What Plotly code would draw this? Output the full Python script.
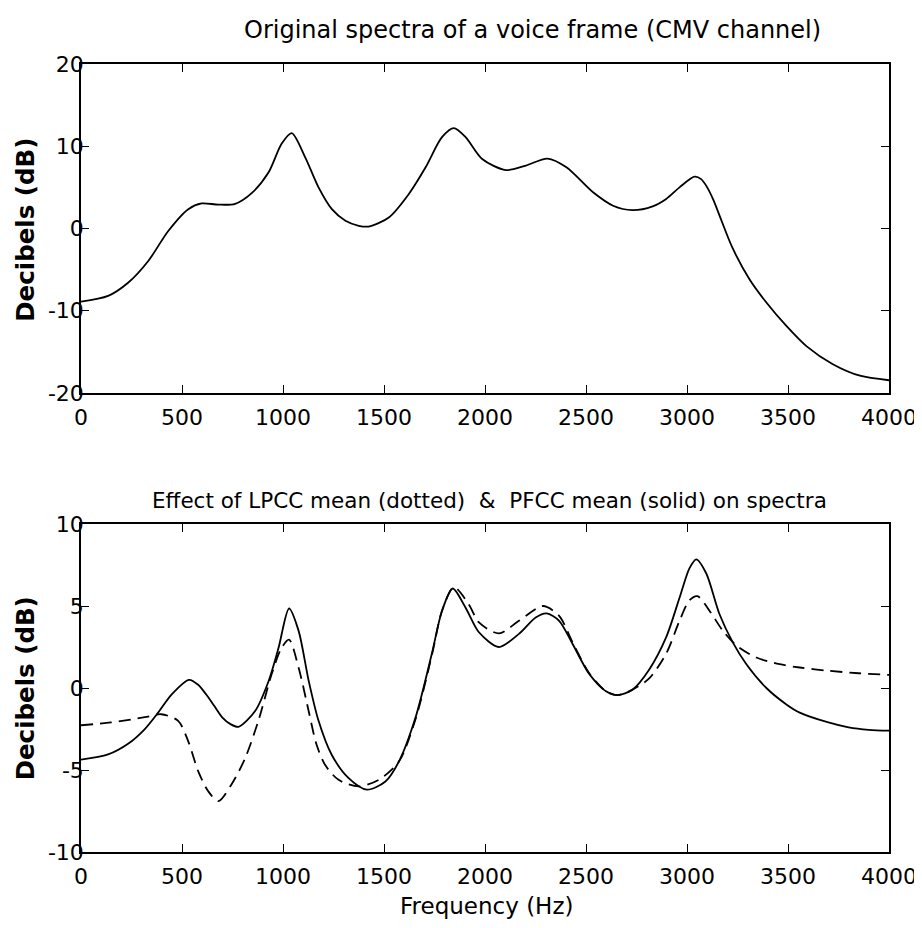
import plotly.graph_objects as go
from plotly.subplots import make_subplots

# ---- data ----
freq_top = [0, 134, 233, 333, 432, 531, 597, 680, 763, 845, 928, 993, 1043, 1110, 1176, 1242,
            1309, 1375, 1424, 1524, 1623, 1706, 1787, 1846, 1904, 1986, 2103, 2202, 2310, 2403,
            2535, 2634, 2730, 2830, 2897, 2963, 3037, 3070, 3100, 3130, 3170, 3226, 3310, 3393,
            3492, 3591, 3722, 3856, 4000]
db_top = [-8.9, -8.2, -6.6, -3.95, -0.3, 2.35, 3.05, 2.9, 3.0, 4.3, 6.8, 10.3, 11.6, 8.65, 5.0, 2.35,
          0.94, 0.33, 0.24, 1.34, 4.2, 7.44, 11.1, 12.2, 11.1, 8.45, 7.1, 7.65, 8.5, 7.44,
          4.4, 2.77, 2.24, 2.7, 3.6, 5.0, 6.3, 6.0, 5.0, 3.5, 1.0, -2.4, -6.2, -9.0,
          -11.85, -14.3, -16.5, -17.9, -18.45]

freq_pfcc = [0, 134, 233, 316, 382, 448, 535, 580, 620, 660, 700, 740, 779, 862, 928, 978, 1030,
             1077, 1127, 1176, 1241, 1325, 1415, 1507, 1573, 1656, 1737, 1787, 1840, 1904, 1970,
             2069, 2168, 2251, 2305, 2367, 2433, 2516, 2599, 2656, 2730, 2814, 2897, 2963, 3012,
             3046, 3095, 3161, 3226, 3294, 3393, 3492, 3558, 3700, 3800, 3900, 4000]
db_pfcc = [-4.37, -4.05, -3.4, -2.5, -1.5, -0.4, 0.5, 0.2, -0.4, -1.1, -1.8, -2.2, -2.37, -1.4, 0.4, 2.45, 4.85,
           3.5, 0.45, -2.0, -4.07, -5.5, -6.2, -5.7, -4.5, -1.8, 2.1, 4.7, 6.07, 4.9, 3.4,
           2.5, 3.3, 4.3, 4.55, 4.1, 2.7, 0.85, -0.2, -0.43, -0.1, 1.15, 3.1, 5.5, 7.3,
           7.85, 7.0, 4.5, 2.8, 1.45, 0.0, -1.0, -1.5, -2.1, -2.4, -2.55, -2.6]

freq_lpcc = [0, 149, 316, 397, 481, 531, 581, 630, 680, 744, 812, 878, 944, 993, 1030, 1077,
             1127, 1166, 1209, 1275, 1375, 1474, 1573, 1656, 1737, 1787, 1846, 1920, 1970, 2069,
             2168, 2287, 2367, 2433, 2516, 2599, 2656, 2730, 2814, 2897, 2963, 3012, 3052, 3112,
             3177, 3244, 3343, 3459, 3558, 3700, 3850, 4000]
db_lpcc = [-2.27, -2.1, -1.78, -1.6, -2.0, -3.25, -5.1, -6.3, -6.9, -5.9, -4.3, -2.0, 0.85, 2.45, 2.95, 1.25,
           -1.4, -3.45, -4.7, -5.6, -6.0, -5.6, -4.5, -1.9, 2.0, 4.7, 6.15, 5.1, 4.0, 3.33,
           4.1, 5.0, 4.4, 2.8, 0.9, -0.2, -0.43, -0.1, 0.6, 2.1, 4.1, 5.35, 5.6, 4.7,
           3.5, 2.6, 1.86, 1.45, 1.25, 1.05, 0.9, 0.8]

x_ticks = [0, 500, 1000, 1500, 2000, 2500, 3000, 3500, 4000]
y_ticks_top = [-20, -10, 0, 10, 20]
y_ticks_bottom = [-10, -5, 0, 5, 10]
top_title = "Original spectra of a voice frame (CMV channel)"
bottom_title = "Effect of LPCC mean (dotted)  &  PFCC mean (solid) on spectra"
x_label = "Frequency (Hz)"
y_label = "Decibels (dB)"

FONT = "DejaVu Sans, Arial, sans-serif"

fig = make_subplots(rows=2, cols=1, vertical_spacing=0.0)

fig.add_trace(go.Scatter(x=freq_top, y=db_top, mode="lines",
                         line=dict(color="black", width=1.8, shape="spline", smoothing=0.8),
                         showlegend=False), row=1, col=1)
fig.add_trace(go.Scatter(x=freq_lpcc, y=db_lpcc, mode="lines",
                         line=dict(color="black", width=1.8, dash="12px,7px", shape="spline", smoothing=0.8),
                         showlegend=False), row=2, col=1)
fig.add_trace(go.Scatter(x=freq_pfcc, y=db_pfcc, mode="lines",
                         line=dict(color="black", width=1.8, shape="spline", smoothing=0.8),
                         showlegend=False), row=2, col=1)

axis_common = dict(showline=True, linecolor="black", linewidth=1.5, mirror="ticks",
                   ticks="inside", ticklen=8, tickwidth=1.3, tickcolor="black",
                   showgrid=False, zeroline=False, automargin=False,
                   tickfont=dict(family=FONT, size=22, color="black"))

fig.update_xaxes(range=[0, 4000], tickvals=x_ticks, ticktext=[str(v) for v in x_ticks],
                 ticklabelstandoff=4, ticklabeloverflow="allow", **axis_common)
fig.update_yaxes(ticklabelstandoff=-9, **axis_common)
fig.update_yaxes(range=[-20, 20], tickvals=y_ticks_top, ticktext=[str(v) for v in y_ticks_top],
                 domain=[0.5825, 1.0], row=1, col=1)
fig.update_yaxes(range=[-10, 10], tickvals=y_ticks_bottom, ticktext=[str(v) for v in y_ticks_bottom],
                 domain=[0.0, 0.4162], row=2, col=1)

anns = [
    dict(text=top_title, x=0.559, y=1.043, font=dict(size=24)),
    dict(text=bottom_title, x=0.506, y=0.4467, font=dict(size=21.5)),
    dict(text=x_label, x=0.502, y=-0.068, font=dict(size=23)),
    dict(text="<b>" + y_label + "</b>", x=-0.069, y=0.79, textangle=-90, font=dict(size=24.5)),
    dict(text="<b>" + y_label + "</b>", x=-0.069, y=0.208, textangle=-90, font=dict(size=24.5)),
]
for a in anns:
    a.update(xref="paper", yref="paper", showarrow=False, xanchor="center", yanchor="middle")
    a["font"].update(family=FONT, color="black")
fig.update_layout(annotations=anns)

# The page body adds an 8px offset, so margins are set to land the axes where the reference has them.
fig.update_layout(width=922, height=928, plot_bgcolor="white", paper_bgcolor="white",
                  margin=dict(l=73, r=41, t=56, b=84), showlegend=False)

fig.write_html("out.html")
